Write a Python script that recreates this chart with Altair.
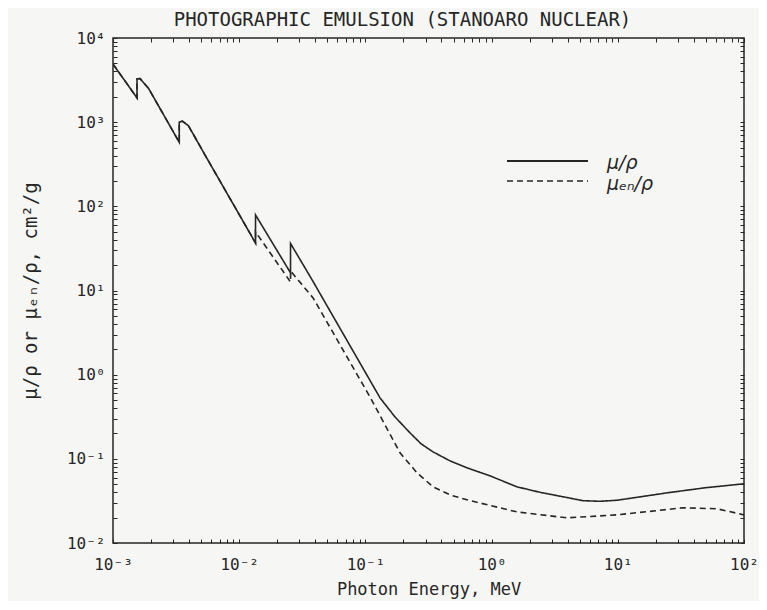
import altair as alt
import pandas as pd

# ---- data (energy in MeV, coefficients in cm^2/g) ----
energy_mu = [0.001, 0.00155, 0.00155, 0.001637, 0.00191, 0.00335, 0.00335, 0.00354, 0.00396,
             0.00536, 0.01347, 0.01347, 0.02551, 0.02551, 0.0378, 0.1306, 0.1715, 0.2254,
             0.2758, 0.3434, 0.468, 0.638, 0.971, 1.589, 2.418, 3.95, 5.30, 7.23, 9.86,
             24.5, 49.1, 100.0]
mu_rho = [4900, 1940, 3260, 3300, 2530, 577, 1000, 1030, 908,
          407, 36.7, 79, 16.2, 36.2, 13.4, 0.530, 0.315, 0.204,
          0.151, 0.121, 0.0946, 0.0782, 0.0628, 0.0465, 0.0400, 0.0347, 0.0318, 0.0313, 0.0322,
          0.0394, 0.0453, 0.0505]

energy_muen = [0.001, 0.00155, 0.00155, 0.001637, 0.00191, 0.00335, 0.00335, 0.00354, 0.00396,
               0.00536, 0.01347, 0.01347, 0.02551, 0.02551, 0.0292, 0.0385, 0.1087, 0.1429,
               0.188, 0.2564, 0.3434, 0.468, 0.638, 1.589, 3.95, 9.86, 32.9, 61.1, 100.0]
muen_rho = [4900, 1940, 3260, 3300, 2530, 577, 1000, 1030, 908,
            407, 36.7, 49.7, 12.6, 17.1, 13.4, 8.17, 0.544, 0.2535,
            0.118, 0.0682, 0.0465, 0.0373, 0.0326, 0.0234, 0.0199, 0.0216, 0.0262, 0.0255, 0.0216]

series_names = ["μ/ρ", "μₑₙ/ρ"]

x_major = [0.001, 0.01, 0.1, 1.0, 10.0, 100.0]
x_major_labels = ["10⁻³", "10⁻²", "10⁻¹", "10⁰", "10¹", "10²"]
y_major = [0.01, 0.1, 1.0, 10.0, 100.0, 1000.0, 10000.0]
y_major_labels = ["10⁻²", "10⁻¹", "10⁰", "10¹", "10²", "10³", "10⁴"]

title_text = "PHOTOGRAPHIC EMULSION (STANOARO NUCLEAR)"
x_title = "Photon Energy, MeV"
y_title = "μ/ρ or μₑₙ/ρ, cm²/g"

# ---- build table ----
rows = []
for i, (e, v) in enumerate(zip(energy_mu, mu_rho)):
    rows.append({"E": e, "v": v, "series": series_names[0], "idx": i})
for i, (e, v) in enumerate(zip(energy_muen, muen_rho)):
    rows.append({"E": e, "v": v, "series": series_names[1], "idx": i})
df = pd.DataFrame(rows)

def minor_ticks(majors):
    out = []
    for m in majors[:-1]:
        for k in range(1, 10):
            out.append(round(m * k, 10))
    out.append(majors[-1])
    return out

x_ticks = minor_ticks(x_major)
y_ticks = minor_ticks(y_major)

def label_expr(vals, labels):
    expr = "''"
    for v, l in reversed(list(zip(vals, labels))):
        expr = f"abs(datum.value - {v!r}) < {v * 1e-6!r} ? '{l}' : ({expr})"
    return expr

FONT = "DejaVu Sans Mono"
INK = "#262626"

xscale = alt.Scale(type="log", domain=[0.001, 100.0], nice=False)
yscale = alt.Scale(type="log", domain=[0.01, 10000.0], nice=False)

common_axis = dict(domain=False, grid=False, tickSize=4, offset=-4, tickColor=INK,
                   tickWidth=1, labelColor=INK, titleColor=INK, labelFont=FONT,
                   titleFont=FONT, labelFontSize=16,
                   titleFontWeight="normal")

x_bottom = alt.Axis(orient="bottom", values=x_ticks, labelExpr=label_expr(x_major, x_major_labels),
                    labelPadding=13, title=x_title, titlePadding=9, titleFontSize=17,
                    labelFlush=False, labelOverlap=False, **common_axis)
y_left = alt.Axis(orient="left", values=y_ticks, labelExpr=label_expr(y_major, y_major_labels),
                  labelPadding=8, title=y_title, titlePadding=26, titleFontSize=19,
                  labelOverlap=False, labelFlush=False, **common_axis)
x_top = alt.Axis(orient="top", values=x_ticks, labels=False, title=None, **common_axis)
y_right = alt.Axis(orient="right", values=y_ticks, labels=False, title=None, **common_axis)

lines = alt.Chart(df).mark_line(strokeWidth=1.6, color=INK, clip=True).encode(
    x=alt.X("E:Q", scale=xscale, axis=x_bottom),
    y=alt.Y("v:Q", scale=yscale, axis=y_left),
    strokeDash=alt.StrokeDash("series:N", scale=alt.Scale(domain=series_names, range=[[1, 0], [6, 4]]),
                              legend=None),
    order=alt.Order("idx:Q"),
)

frame_axes = alt.Chart(df).mark_point(opacity=0).encode(
    x=alt.X("E:Q", scale=xscale, axis=x_top),
    y=alt.Y("v:Q", scale=yscale, axis=y_right),
)

leg_df = pd.DataFrame({"label": series_names})
leg1_line = alt.Chart(leg_df.iloc[[0]]).mark_rule(color=INK, strokeWidth=1.8).encode(
    x=alt.value(394), x2=alt.value(475), y=alt.value(123))
leg2_line = alt.Chart(leg_df.iloc[[1]]).mark_rule(color=INK, strokeWidth=1.6, strokeDash=[6, 4]).encode(
    x=alt.value(394), x2=alt.value(475), y=alt.value(143))
leg1_text = alt.Chart(leg_df.iloc[[0]]).mark_text(align="left", baseline="middle", font="DejaVu Sans",
                                                  fontSize=19, fontStyle="italic", color=INK).encode(
    x=alt.value(494), y=alt.value(125), text="label:N")
leg2_text = alt.Chart(leg_df.iloc[[1]]).mark_text(align="left", baseline="middle", font="DejaVu Sans",
                                                  fontSize=19, fontStyle="italic", color=INK).encode(
    x=alt.value(494), y=alt.value(146), text="label:N")

chart = alt.layer(lines, frame_axes, leg1_line, leg2_line, leg1_text, leg2_text).resolve_axis(
    x="independent", y="independent"
).properties(
    width=631, height=505,
    title=alt.TitleParams(title_text, font=FONT, fontSize=19, fontWeight="normal", color=INK,
                          anchor="middle", dx=-26, offset=0),
    autosize=alt.AutoSizeParams(type="none"),
    padding={"left": 105, "top": 30, "right": 15, "bottom": 58},
    background="#f6f6f4",
).configure_view(stroke=INK, strokeWidth=1.5)

chart.save("out.html", embed_options={"renderer": "svg", "actions": False})
